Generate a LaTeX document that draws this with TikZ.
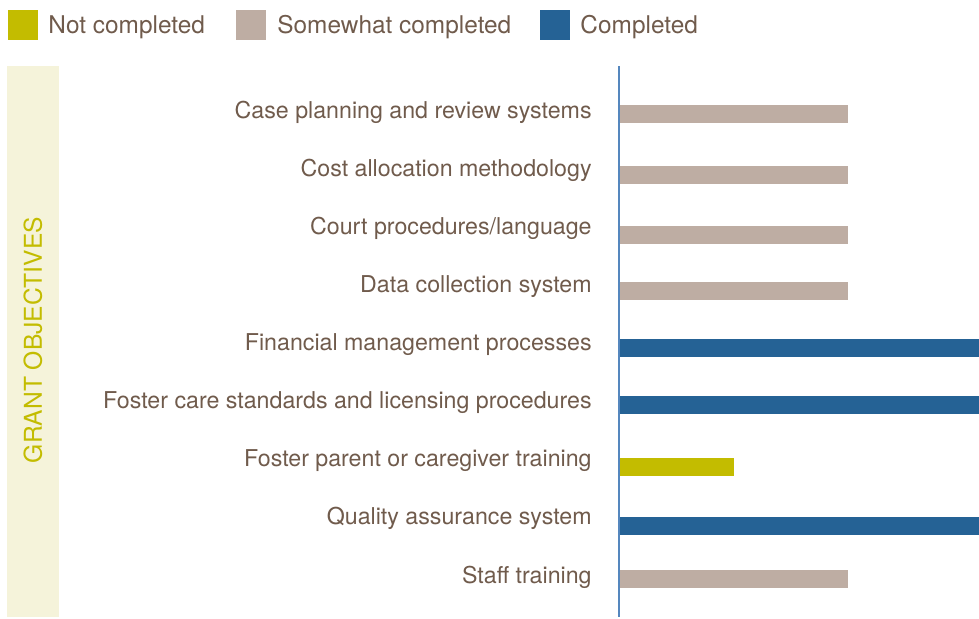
\documentclass[tikz,border=0pt]{standalone}
\usepackage{fontspec}
\setmainfont{TeX Gyre Heros}
\usetikzlibrary{positioning}
\definecolor{notdone}{RGB}{195,188,0}
\definecolor{somedone}{RGB}{190,173,163}
\definecolor{done}{RGB}{37,98,149}
\definecolor{labelbrown}{RGB}{112,91,76}
\definecolor{sidefill}{RGB}{245,243,218}
\definecolor{axisblue}{RGB}{85,135,190}

\begin{document}
\begin{tikzpicture}[x=0.5pt,y=-0.5pt,
  legbox/.style={anchor=north west, inner sep=0pt, minimum width=15pt, minimum height=15pt},
  legtext/.style={anchor=base west, inner sep=0pt, text=labelbrown, font=\fontsize{12.2}{14}\selectfont},
  objlabel/.style={anchor=base east, inner sep=0pt, text=labelbrown, font=\fontsize{11.6}{14}\selectfont}]
\useasboundingbox (0,0) rectangle (979,618);

% Legend
\node[legbox, fill=notdone] (legnot) at (8,10) {};
\node[legtext] (legnottext) at (48,33) {Not completed};
\node[legbox, fill=somedone] (legsome) at (236,10) {};
\node[legtext] (legsometext) at (277,33) {Somewhat completed};
\node[legbox, fill=done] (legdone) at (540,10) {};
\node[legtext] (legdonetext) at (580,33) {Completed};

% Side band
\fill[sidefill] (7,66) rectangle (59,617);
\node[rotate=90, inner sep=0pt, text=notdone, font=\fontsize{12.3}{14}\selectfont] (sidetitle) at (33,340) {GRANT OBJECTIVES};

% Objectives and bars
\draw[axisblue, line width=1pt] (619,66) -- (619,617);
\foreach \y/\b/\len/\col/\txt [count=\i] in {
  114/118/848/somedone/{Case planning and review systems},
  175/176/848/somedone/{Cost allocation methodology},
  235/234/848/somedone/{Court procedures/language},
  291/292/848/somedone/{Data collection system},
  348/350/979/done/{Financial management processes},
  405/408/979/done/{Foster care standards and licensing procedures},
  467/466/734/notdone/{Foster parent or caregiver training},
  526/524/979/done/{Quality assurance system},
  579/583/848/somedone/{Staff training}}{
  \fill[\col] (620,\y-9) rectangle (\len,\y+9);
  \node[objlabel] (obj\i) at (592,\b) {\txt};
}
\end{tikzpicture}
\end{document}
